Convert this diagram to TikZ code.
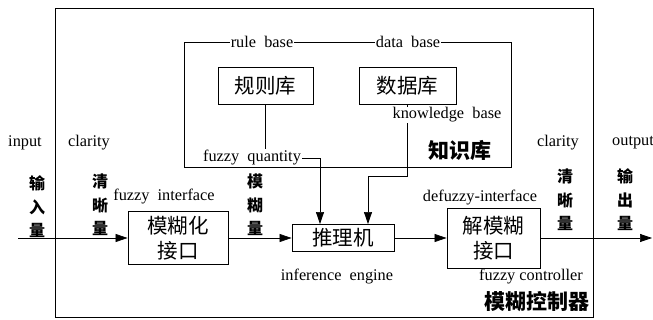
\documentclass[tikz,border=0pt]{standalone}
\usepackage{fontspec}
\setmainfont{Liberation Serif}
\newfontfamily\cjk{Noto Sans CJK SC}
\usetikzlibrary{arrows.meta}
\tikzset{
  arr/.style={-{Triangle[length=12pt,width=8pt]}, line width=0.7pt},
  cbox/.style={draw, line width=0.9pt, inner sep=0pt, font=\cjk\fontsize{20.5}{25}\selectfont, align=center},
  en/.style={inner sep=1pt, font=\fontsize{16.3}{19}\selectfont},
  vlab/.style={inner sep=0pt, align=center, font=\cjk\bfseries\fontsize{16}{23.5}\selectfont},
  big/.style={inner sep=1pt, font=\cjk\bfseries\fontsize{21}{25}\selectfont},
  frame/.style={line width=0.8pt}
}
\begin{document}
\begin{tikzpicture}[x=1pt,y=-1pt]
\useasboundingbox (0,0) rectangle (653,320);
% outer frame
\draw[frame] (55,8) rectangle (593,317);
% knowledge base frame
\draw[frame] (184,42) rectangle (511,167);
\node[en, fill=white] (rb) at (262,42) {rule\ \ base};
\node[en, fill=white] (db) at (408,42) {data\ \ base};
% boxes
\node[cbox, minimum width=95pt, minimum height=37pt] (rule) at (265.5,85.5) {规则库};
\node[cbox, minimum width=97pt, minimum height=37pt] (data) at (407.5,85.5) {数据库};
\node[cbox, minimum width=100pt, minimum height=53pt] (fz) at (178,238) {模糊化\\接口};
\node[cbox, minimum width=102pt, minimum height=27pt] (inf) at (343,238) {推理机};
\node[cbox, minimum width=93pt, minimum height=60pt] (dfz) at (493.5,238) {解模糊\\接口};
\coordinate (ia) at ([xshift=-23pt]inf.north);
\coordinate (ib) at ([xshift=25pt]inf.north);
% labels
\node[en] (fq) at (252,158) {fuzzy\ \ quantity};
\node[en] (in) at (25,143) {input};
\node[en] (cl1) at (89,143) {clarity};
\node[en] (cl2) at (558,143) {clarity};
\node[en, anchor=west] (outl) at (611,143) {output};
\node[en] (fi) at (164,197) {fuzzy\ \ interface};
\node[en] (ie) at (337,277) {inference\ \ engine};
\node[en] (di) at (480,198) {defuzzy-interface};
\node[en] (fc) at (531,277) {fuzzy controller};
\node[big] (zsk) at (460,150) {知识库};
\node[big] (mkq) at (537,302) {模糊控制器};
\node[vlab] (v1) at (37,207) {输\\入\\量};
\node[vlab] (v2) at (100,205) {清\\晰\\量};
\node[vlab] (v3) at (255,205) {模\\糊\\量};
\node[vlab] (v4) at (565,200) {清\\晰\\量};
\node[vlab] (v5) at (625,200) {输\\出\\量};
% connectors in knowledge base
\draw[line width=0.7pt] (rule.south) -- (rule.south |- fq.north);
\draw[arr] (fq.east) -| (ia);
\draw[arr] (data.south) -- ++(0,72) -| (ib);
\node[en, fill=white] (kb) at (447,115) {knowledge\ \ base};
% main line
\coordinate (src) at (18,238);
\coordinate (dst) at (652,238);
\draw[arr] (src) -- (fz.west);
\draw[arr] (fz.east) -- (inf.west);
\draw[arr] (inf.east) -- (dfz.west);
\draw[arr] (dfz.east) -- (dst);
\end{tikzpicture}
\end{document}
